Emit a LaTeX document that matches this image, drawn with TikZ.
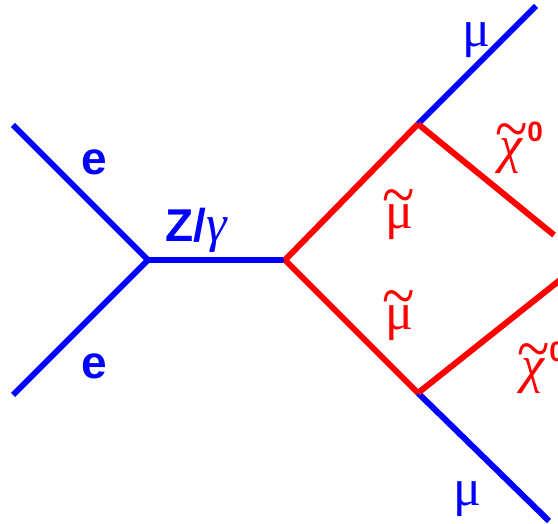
\documentclass[tikz,border=0pt]{standalone}
\usepackage{fontspec}
\setmainfont{Liberation Serif}
\newfontfamily\lsans{Liberation Sans}
\usetikzlibrary{positioning}
\tikzset{
  blueline/.style={draw=blue, line width=6pt},
  redline/.style={draw=red, line width=6pt},
  sanslbl/.style={text=blue, inner sep=0pt, font=\lsans\bfseries\fontsize{46}{50}\selectfont},
  greeklbl/.style={inner sep=0pt, font=\fontsize{52}{54}\selectfont}
}
\newcommand{\zerosup}{\raisebox{21pt}{\lsans\bfseries\fontsize{28}{30}\selectfont 0}}
\newcommand{\tildeon}[1]{\vbox{\offinterlineskip\halign{\hfil##\hfil\cr
  \scalebox{1.15}[1.3]{\textasciitilde}\cr\noalign{\kern-13pt}#1\cr}}}

\begin{document}
\begin{tikzpicture}[x=1pt, y=-1pt]
  \useasboundingbox (0,0) rectangle (558,524);

  % vertices
  \coordinate (eA) at (13,125);
  \coordinate (eB) at (13,395);
  \coordinate (v1) at (148,260);
  \coordinate (v2) at (285,260);
  \coordinate (v3) at (418,124);
  \coordinate (v4) at (418,393);
  \coordinate (muA) at (536,6);
  \coordinate (muB) at (549,521);
  \coordinate (chiA) at (554,235);
  \coordinate (chiB) at (560,280);

  \draw[blueline] (eA) -- (v1);
  \draw[blueline] (eB) -- (v1);
  \draw[blueline] (v1) -- (v2);
  \draw[redline] (v2) -- (v3);
  \draw[redline] (v2) -- (v4);
  \draw[blueline] (v3) -- (muA);
  \draw[blueline] (v4) -- (muB);
  \draw[redline] (v3) -- (chiA);
  \draw[redline] (v4) -- (chiB);

  % labels
  \node[sanslbl] (eUp) at (94,162) {e};
  \node[sanslbl] (eDown) at (94,366) {e};
  \node[sanslbl] (zg) at (197,230) {Z/\textmd{\rmfamily\itshape\fontsize{52}{54}\selectfont γ}};
  \node[greeklbl, text=blue] (muUp) at (476,40) {μ};
  \node[greeklbl, text=blue] (muDown) at (467,499) {μ};
  \node[greeklbl, text=red] (smuUp) at (399,215) {\tildeon{μ}};
  \node[greeklbl, text=red] (smuDown) at (399,316) {\tildeon{μ}};
  \node[greeklbl, text=red] (chiUp) at (519,148) {\tildeon{\itshape χ}\zerosup};
  \node[greeklbl, text=red] (chiDown) at (541,368) {\tildeon{\itshape χ}\zerosup};
\end{tikzpicture}
\end{document}
